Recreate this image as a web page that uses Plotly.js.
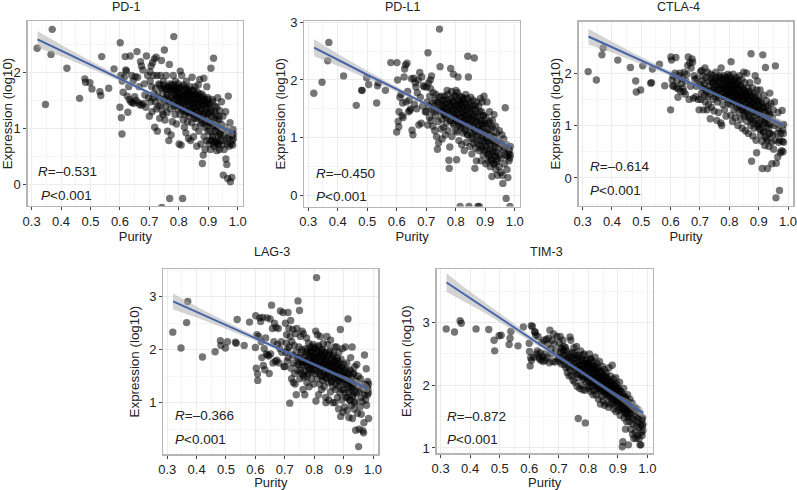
<!DOCTYPE html>
<html><head><meta charset="utf-8">
<script src="https://cdn.plot.ly/plotly-3.0.1.min.js"></script>
<style>html,body{margin:0;padding:0;background:#fff}</style></head>
<body><div id="chart" style="width:797px;height:490px"></div>
<script>
const purity=[.319,.347,.366,.370,.420,.463,.481,.483,.498,.505,.532,.535,.538,.562,.580,
.600,.601,.603,.605,.607,.608,.611,.615,.618,.620,.622,.625,.627,.630,.632,.635,.637,.640,.642,.645,.647,.650,.652,.655,.658,.660,.663,.665,.668,.670,.673,.675,.678,.680,.683,.685,.688,.690,.694,.697,
.700,.702,.703,.705,.706,.708,.709,.711,.712,.714,.715,.717,.718,.720,.721,.723,.724,.726,.727,.729,.730,.732,.733,.735,.736,.738,.739,.741,.742,.744,.745,.747,.748,.750,.751,.753,.754,.756,.757,.759,.760,.762,.763,.765,.766,.768,.769,.771,.772,.774,.775,.777,.778,.780,.781,.783,.784,.786,.787,.789,.790,.792,.793,.795,.796,.798,.799,
.800,.801,.803,.804,.805,.806,.808,.809,.810,.811,.813,.814,.815,.816,.818,.819,.820,.821,.823,.824,.825,.826,.828,.829,.830,.831,.833,.834,.835,.836,.838,.839,.840,.841,.843,.844,.845,.846,.848,.849,.850,.851,.853,.854,.855,.856,.858,.859,.860,.861,.863,.864,.865,.866,.868,.869,.870,.871,.873,.874,.875,.876,.878,.879,.880,.881,.883,.884,.885,.886,.888,.889,.890,.891,.893,.894,.895,.896,.898,.899,
.900,.902,.903,.905,.906,.908,.909,.911,.912,.914,.915,.917,.918,.920,.921,.923,.924,.926,.927,.929,.930,.932,.933,.935,.936,.938,.939,.941,.942,.944,.945,.947,.948,.950,.951,.953,.954,.956,.957,.959,.960,.962,.963,.965,.966,.968,.969,.971,.972,.974,.975,.977,.978,.980,.981,.982,.983,.984,.985,.985,
.742,.748,.752,.757,.761,.764,.767,.770,.773,.776,.778,.781,.783,.786,.788,.790,.792,.794,.797,.799,.801,.803,.805,.807,.809,.811,.813,.815,.817,.819,.821,.823,.825,.827,.829,.831,.833,.835,.837,.839,.841,.843,.845,.847,.849,.851,.853,.855,.857,.859,.861,.863,.865,.867,.869,.871,.873,.875,.877,.879,.881,.883,.885,.887,.889,.891,.893,.895,.897,.899,.901,.903,.905,.907,.909,.911,.913,.915,.917,.919,.921,.923,.925,.927,.929,.931,.933,.935,.937,.939];

const pd1=[2.44,1.43,2.33,2.78,2.08,1.54,1.89,1.83,1.82,1.71,1.66,1.59,2.29,1.72,2.07,
1.38,2.54,1.95,1.19,.90,1.85,1.65,1.92,2.29,2.05,2.03,1.58,1.29,1.75,1.52,2.30,1.48,1.95,1.46,1.85,1.45,1.57,1.93,1.50,2.38,1.92,1.46,1.75,1.42,2.20,2.12,1.42,2.05,1.45,1.80,1.60,1.38,2.30,1.95,1.55,
1.22,2.02,1.85,1.48,2.12,1.75,1.30,2.18,1.55,1.95,1.62,2.25,1.02,1.48,1.72,2.28,1.35,1.95,.95,1.60,1.40,1.80,1.55,1.18,1.78,1.95,1.42,2.22,-.42,1.30,1.68,1.25,1.85,1.52,2.41,1.15,1.72,1.40,1.95,1.60,1.28,.95,1.75,1.48,.78,2.15,-.26,1.70,1.35,.88,1.78,1.55,1.12,1.68,1.95,2.65,1.40,1.72,1.25,1.85,1.55,1.08,1.70,1.62,1.35,1.80,1.50,
1.55,.72,1.72,1.25,2.03,1.45,.70,1.62,1.95,1.32,-.26,1.50,1.15,1.78,1.38,1.02,1.60,1.25,1.72,.92,1.48,1.85,1.30,1.55,1.12,1.68,.82,1.42,1.62,1.22,1.75,1.50,.78,1.35,1.60,1.10,1.92,1.45,1.28,1.68,.85,1.52,1.18,1.38,1.75,1.02,1.58,1.30,1.45,.68,1.65,1.20,1.40,1.78,.95,1.55,1.28,1.88,1.08,1.48,.72,1.35,1.62,1.15,.37,1.42,.52,1.25,1.90,.85,1.52,.62,1.30,1.12,1.45,.78,1.75,1.05,1.38,1.55,
1.25,.72,1.45,.95,1.10,.62,2.08,1.30,.78,1.52,.85,1.05,2.26,.68,1.18,1.40,.75,.95,1.25,.60,1.02,1.55,.72,.85,1.15,.62,1.32,.90,.78,1.08,1.48,.70,.98,1.22,.16,.88,.62,.78,1.02,1.30,.45,.82,.35,.72,.10,1.58,.95,.68,.85,1.10,.04,.72,.92,.12,.88,.78,.70,.98,.82,.90,
1.72,1.78,1.55,1.70,1.62,1.75,1.50,1.80,1.68,1.58,1.72,1.45,1.78,1.62,1.52,1.70,1.42,1.75,1.58,1.65,1.48,1.72,1.55,1.38,1.62,1.75,1.45,1.58,1.35,1.68,1.52,1.62,1.30,1.72,1.48,1.58,1.40,1.65,1.28,1.52,1.60,1.35,1.45,1.68,1.25,1.55,1.38,1.62,1.48,1.18,1.58,1.30,1.52,1.42,1.62,1.22,1.48,1.35,1.55,1.10,1.42,1.58,1.25,1.50,1.02,1.35,1.45,1.18,1.52,.95,1.28,1.42,1.10,.78,1.35,1.22,.85,1.48,1.05,.72,1.30,.95,.75,1.15,1.38,.78,1.05,.72,1.22,.90];

const pdl1=[1.77,1.96,2.33,2.65,2.07,1.56,1.82,1.82,2.04,1.92,1.60,1.90,1.95,1.82,2.30,
1.10,2.30,2.00,1.28,1.19,1.45,1.70,1.75,1.38,1.60,1.35,2.05,2.19,2.26,1.62,2.29,1.80,1.45,1.65,1.47,1.50,2.02,1.13,1.05,2.03,1.58,1.95,1.88,1.50,1.78,2.00,1.22,2.13,1.70,1.25,2.05,1.55,1.90,1.88,1.45,
1.45,1.88,1.62,1.22,2.47,1.95,1.55,1.35,1.72,2.00,1.85,1.30,2.07,1.48,1.60,1.20,1.78,1.45,1.55,1.12,1.65,1.38,1.75,1.02,1.50,.80,1.62,1.28,.91,1.70,2.88,2.23,1.45,1.15,1.58,1.32,.98,1.65,1.45,1.18,1.52,1.72,1.38,1.05,1.60,1.25,1.48,1.82,1.42,1.12,1.65,.61,.47,.84,1.55,2.20,1.30,1.80,1.02,1.48,1.62,2.10,1.22,1.72,1.40,1.55,1.12,
1.35,1.82,.62,1.55,1.10,1.78,2.05,1.28,1.62,.95,1.48,1.72,-.19,1.20,1.58,1.35,.88,1.70,1.42,1.08,1.65,1.25,1.52,.78,1.38,1.60,1.15,1.75,1.30,.92,1.48,1.68,1.05,2.41,2.05,1.35,-.19,1.58,.85,1.22,1.45,1.70,1.00,1.32,.72,1.55,1.18,1.65,.90,1.38,2.38,1.10,.47,1.50,.82,1.28,.60,1.62,1.02,1.42,-.19,1.18,1.55,.78,-.19,1.30,.95,1.68,1.12,.60,1.45,.85,1.62,1.22,.70,1.38,1.05,1.72,.92,1.25,
1.10,.55,1.35,.80,1.62,.95,.60,1.25,.72,1.05,1.45,.50,.88,1.15,.62,.33,1.30,.78,1.00,.55,1.40,.68,.90,1.20,.45,.75,1.08,.62,.35,.95,.82,.50,1.12,.70,.92,.40,.65,.88,1.05,.35,.21,.78,.98,.55,.82,1.52,.70,-.05,.88,.45,.68,.31,.82,.72,.60,.78,.65,-.19,.85,.70,
1.60,1.48,1.72,1.55,1.40,1.65,1.52,1.35,1.75,1.45,1.60,1.30,1.55,1.68,1.42,1.50,1.25,1.62,1.38,1.72,1.48,1.30,1.58,1.42,1.65,1.22,1.50,1.35,1.60,1.18,1.45,1.55,1.28,1.68,1.38,1.12,1.48,1.58,1.25,1.40,1.05,1.52,1.32,1.18,1.62,1.42,1.08,1.30,1.50,.98,1.22,1.40,1.12,1.55,1.28,.92,1.35,1.05,1.20,.88,1.45,1.15,1.30,.82,1.02,1.25,.95,1.38,.78,1.10,1.22,.85,1.00,.72,1.15,.92,.68,1.28,.80,1.05,.62,.95,1.18,.75,.55,1.02,.85,.68,.92,.58];

const ctla4=[2.03,1.87,2.35,2.48,2.25,2.11,1.85,1.64,1.68,2.14,1.81,1.82,2.08,2.17,1.76,
1.30,2.31,2.25,1.87,1.76,1.95,1.75,2.00,2.30,1.72,1.85,1.54,1.70,1.95,2.00,1.65,1.80,1.90,1.72,1.65,2.02,1.60,1.85,1.98,2.15,2.31,1.50,2.20,1.75,2.10,2.27,2.21,1.52,1.95,1.88,1.55,1.75,1.90,1.50,1.30,
1.78,2.03,1.50,1.62,2.05,1.85,1.72,1.95,1.30,1.58,1.80,2.10,1.45,1.70,1.92,1.65,1.30,2.02,1.55,1.40,1.85,1.75,1.60,1.13,1.98,1.90,1.35,1.68,1.82,1.50,1.95,1.72,1.28,1.62,1.85,1.55,2.02,1.78,1.10,1.45,1.92,1.68,1.25,1.80,1.52,1.95,1.70,1.05,2.10,1.00,1.62,1.88,1.40,1.75,1.95,1.55,1.30,1.82,1.68,1.18,1.90,1.72,1.58,1.98,1.42,1.78,1.62,
1.62,1.95,1.40,1.78,1.20,2.22,1.55,1.85,1.70,1.08,1.98,1.45,1.65,1.30,1.88,1.52,1.72,1.15,1.92,1.60,1.35,1.78,1.48,1.00,1.68,1.85,1.25,1.55,1.95,1.38,1.62,1.12,1.75,1.45,1.88,.95,1.58,1.30,1.70,2.02,1.18,1.50,1.82,1.40,.90,1.62,1.28,2.00,1.08,1.55,1.72,1.35,.85,1.48,1.65,1.15,1.82,1.38,1.00,2.37,1.58,.32,1.25,1.72,.80,1.45,1.62,1.10,.95,1.35,1.95,1.55,1.20,.72,.48,1.68,1.30,1.85,1.02,1.48,
1.55,.95,1.30,1.68,.82,1.45,1.15,.70,.18,2.35,1.35,.88,1.58,1.05,.62,2.11,1.25,1.48,.75,1.12,.18,1.38,.95,.60,1.22,1.62,.85,1.02,1.42,.68,.27,1.15,.82,1.30,.55,1.00,1.45,.72,2.14,-.38,.28,1.05,.85,.40,1.25,.68,.95,-.24,.72,.48,.85,1.00,.52,1.29,.70,.92,.50,.85,1.02,.68,
1.82,1.68,1.90,1.75,1.58,1.85,1.72,1.92,1.62,1.80,1.70,1.88,1.55,1.78,1.65,1.92,1.72,1.50,1.85,1.62,1.75,1.90,1.58,1.70,1.82,1.48,1.68,1.78,1.55,1.85,1.62,1.42,1.72,1.58,1.80,1.50,1.65,1.38,1.75,1.55,1.30,1.62,1.48,1.70,1.35,1.55,1.22,1.65,1.42,1.58,1.28,1.50,1.18,1.62,1.38,1.48,1.12,1.55,1.30,1.42,1.05,1.52,1.25,1.38,1.48,1.10,1.32,1.45,.98,1.22,1.40,1.05,1.30,.92,1.42,1.18,1.02,1.35,.88,1.25,1.10,.78,1.35,.98,1.15,.72,1.28,1.05,.85,1.20];

const lag3=[2.33,2.03,2.51,2.91,1.86,1.96,2.17,2.08,2.03,2.15,2.14,2.12,2.57,2.08,2.52,
2.04,2.64,1.65,2.28,1.54,1.42,2.25,2.60,2.53,2.15,1.85,2.61,1.70,2.02,1.62,2.22,1.92,2.60,1.90,1.88,1.55,2.58,1.92,2.84,2.40,1.75,2.15,2.50,1.78,2.42,1.80,2.10,2.40,1.75,2.02,2.73,2.15,1.95,2.70,1.68,
1.68,2.50,1.95,2.12,2.28,1.78,2.00,2.70,1.85,2.40,2.05,.99,2.25,2.55,1.65,1.45,2.15,1.90,2.38,1.38,1.75,2.08,1.55,1.35,2.30,1.95,1.15,2.40,1.72,1.60,2.92,1.85,2.05,2.74,1.45,2.25,1.78,1.55,2.00,2.35,1.72,1.25,2.30,1.48,1.88,1.15,1.60,2.02,1.78,2.22,1.38,1.95,1.70,1.55,2.12,1.30,1.82,1.65,1.95,2.05,1.45,1.75,1.88,1.62,2.10,1.35,1.80,
1.85,2.02,1.55,1.72,2.35,1.03,3.36,1.95,1.45,2.28,1.68,1.88,1.15,2.05,1.60,1.35,1.78,2.25,1.50,1.92,1.25,1.70,2.00,1.42,1.85,2.12,1.58,1.30,1.75,1.95,1.48,1.10,1.00,1.82,2.25,1.55,1.68,2.10,1.38,1.90,1.05,1.72,1.52,1.98,1.20,2.18,1.62,1.40,1.85,1.75,1.30,1.00,1.60,1.92,1.45,1.78,2.05,1.00,1.25,1.68,1.55,2.05,1.85,1.10,1.48,1.72,.88,1.95,1.38,1.60,1.18,2.38,.74,1.82,1.45,1.05,1.65,2.02,.82,1.50,
1.25,1.60,.92,1.45,2.05,1.10,1.35,1.75,.85,1.50,2.58,1.20,.72,1.62,1.05,1.40,1.85,.95,1.28,2.05,.70,1.15,1.55,1.35,.88,1.68,1.02,.48,1.42,1.18,1.72,.80,1.30,1.50,.17,.50,1.22,.92,1.45,1.10,.78,1.35,1.02,.47,1.25,.43,.62,1.90,1.15,1.35,1.05,1.64,.95,1.30,1.15,1.40,1.25,1.18,1.35,.70,
1.85,1.72,1.60,1.95,1.78,1.52,1.68,1.88,1.75,1.50,2.00,1.82,1.62,1.92,1.72,1.98,1.58,1.85,2.05,1.70,1.90,1.78,2.02,1.60,1.85,1.95,1.72,2.08,1.55,1.82,1.92,1.65,1.78,2.00,1.50,1.85,1.72,1.92,1.60,1.80,1.45,1.70,1.88,1.58,1.75,1.95,1.50,1.68,1.82,1.40,1.72,1.60,1.88,1.48,1.78,1.62,1.35,1.70,1.52,1.80,1.42,1.65,1.30,1.75,1.55,1.45,1.68,1.25,1.58,1.40,1.72,1.50,1.18,1.62,1.35,1.48,1.10,1.55,1.30,1.42,1.05,1.60,1.25,1.38,1.48,1.12,1.30,1.55,1.00,1.20];

const tim3=[2.90,2.85,3.03,2.99,2.90,2.89,2.72,2.55,2.79,2.80,2.65,2.75,2.86,2.63,2.93,
2.67,2.54,2.31,2.44,2.95,2.40,2.94,2.45,2.85,2.85,2.80,2.50,2.55,2.78,2.45,2.42,2.52,2.40,2.68,2.46,2.38,2.72,2.50,2.40,2.73,2.44,2.65,2.75,2.36,2.88,2.58,2.50,2.72,2.38,2.82,2.66,2.37,2.55,2.78,2.42,
2.45,2.68,2.38,2.78,2.52,2.60,2.34,2.58,2.48,2.72,2.40,2.55,2.62,2.33,2.48,2.60,2.28,2.42,2.55,2.20,2.38,2.50,2.30,2.15,2.45,2.77,2.25,2.72,2.40,2.15,2.52,2.30,2.08,2.42,2.60,2.22,2.05,2.35,2.48,2.18,2.62,1.98,2.30,2.45,1.47,2.12,2.38,1.95,2.25,2.55,2.00,2.32,2.15,2.42,1.93,2.25,2.10,2.50,2.35,1.92,1.40,2.20,2.05,2.40,2.15,2.30,1.98,
2.35,1.95,2.18,2.50,2.05,2.30,1.90,2.42,2.12,1.98,2.25,2.05,2.38,1.85,2.15,2.30,1.92,2.08,2.45,2.00,2.22,1.85,2.12,2.35,1.95,2.05,2.28,1.78,2.15,2.00,2.38,1.90,2.10,1.70,2.22,1.98,2.08,1.82,2.30,1.92,2.15,1.75,2.02,2.25,1.68,1.95,2.12,1.85,2.05,2.20,1.72,1.98,1.90,2.10,1.65,2.02,2.28,1.82,1.95,1.70,2.15,1.88,2.05,1.78,1.95,2.32,1.72,1.90,2.10,1.62,2.00,1.82,1.68,1.95,2.12,1.58,1.85,2.02,1.75,1.92,
1.75,1.95,1.60,1.85,2.05,1.52,1.70,1.90,1.62,1.80,1.02,1.10,1.72,1.95,1.48,1.60,1.82,1.30,1.55,1.72,1.42,1.62,1.85,1.50,1.05,1.68,1.42,1.78,1.55,1.30,1.62,1.48,1.72,1.22,1.38,1.58,1.15,1.45,1.65,1.25,1.52,1.15,1.35,1.62,1.42,1.20,1.48,1.32,1.15,1.55,1.05,1.38,1.05,1.25,1.45,1.20,1.35,1.48,1.28,1.38,
2.45,2.35,2.52,2.28,2.42,2.18,2.48,2.32,2.25,2.40,2.15,2.35,2.48,2.22,2.30,2.12,2.40,2.25,2.32,2.08,2.35,2.20,2.28,2.42,2.12,2.25,2.05,2.32,2.18,2.25,2.02,2.30,2.12,2.20,1.98,2.25,2.08,2.15,1.95,2.22,2.05,2.12,1.92,2.18,2.02,1.98,2.10,1.88,2.05,2.15,1.92,2.00,1.85,2.08,1.95,2.02,1.82,1.98,2.05,1.88,1.95,1.78,2.02,1.90,1.85,1.98,1.75,1.92,1.82,1.70,1.95,1.85,1.78,1.65,1.90,1.80,1.72,1.62,1.85,1.75,1.58,1.70,1.80,1.62,1.55,1.75,1.68,1.52,1.72,1.60];

const fitX=[.32,.4,.5,.6,.7,.8,.9,.985];
const fitHalf=[.15,.105,.07,.045,.03,.03,.04,.065];
const pd1Fit=[2.60,2.40,2.145,1.89,1.64,1.39,1.135,.92];
const pdl1Fit=[2.56,2.35,2.09,1.84,1.58,1.32,1.06,.84];
const ctla4Fit=[2.70,2.50,2.24,1.99,1.735,1.48,1.23,1.01];
const lag3Fit=[2.91,2.71,2.46,2.215,1.97,1.72,1.47,1.26];
const tim3Fit=[3.64,3.39,3.08,2.76,2.45,2.14,1.82,1.56];

const xTicks=[.3,.4,.5,.6,.7,.8,.9,1];
const xLabels=["0.3","0.4","0.5","0.6","0.7","0.8","0.9","1.0"];
const names=["PD-1","PD-L1","CTLA-4","LAG-3","TIM-3"];
const rLabels=["–0.531","–0.450","–0.614","–0.366","–0.872"];
const exprs=[pd1,pdl1,ctla4,lag3,tim3];
const fits=[pd1Fit,pdl1Fit,ctla4Fit,lag3Fit,tim3Fit];
const yTicks=[[0,1,2],[0,1,2,3],[0,1,2],[1,2,3],[1,2,3]];
const yRanges=[[-.395,2.93],[-.19,3.02],[-.53,2.987],[.025,3.522],[.915,3.856]];
// panel boxes in page px: left,right,top,bottom
const boxes=[[27.7,243,21,206],[304.3,520,21,206.5],[578.7,793.3,21.5,205.7],[163.3,378.3,269,454.3],[436.7,652.7,269,453.3]];
const titlePos=[[126,7.5],[402.7,7.5],[678,7.5],[271.7,251.7],[546,252]];
const rPos=[[36.7,171.7],[315,173],[588.7,166.7],[174,415.7],[445.7,416]];
const pPos=[[40,195],[315,196.7],[588.7,190.7],[174,439.3],[445.7,439]];
const yStand=[8,1,1,6,8];
const xStand=[1,1,1,3,3];

const W=797,H=490,px=v=>v/W,py=v=>1-v/H;
const font="'Liberation Sans',Arial,sans-serif";
const traces=[],layout={width:W,height:H,margin:{l:0,r:0,t:0,b:0},paper_bgcolor:'#fff',plot_bgcolor:'#fff',showlegend:false,font:{family:font,color:'#222',size:12},annotations:[]};
names.forEach((nm,i)=>{
  const s=i?String(i+1):'',xa='x'+s,ya='y'+s,b=boxes[i];
  traces.push({type:'scatter',mode:'markers',x:purity,y:exprs[i],xaxis:xa,yaxis:ya,name:nm,hoverinfo:'skip',
    marker:{size:7.4,color:'#000',opacity:.54,line:{width:0}}});
  const up=fits[i].map((v,k)=>v+fitHalf[k]),lo=fits[i].map((v,k)=>v-fitHalf[k]);
  traces.push({type:'scatter',mode:'lines',x:fitX.concat(fitX.slice().reverse()),y:up.concat(lo.slice().reverse()),xaxis:xa,yaxis:ya,
    fill:'toself',fillcolor:'rgba(170,170,170,0.5)',line:{width:0,shape:'spline'},hoverinfo:'skip'});
  traces.push({type:'scatter',mode:'lines',x:fitX,y:fits[i],xaxis:xa,yaxis:ya,line:{color:'#4464a9',width:2},hoverinfo:'skip'});
  const axBase={showline:true,mirror:true,linecolor:'#b5b5b5',linewidth:1.3,ticks:'outside',ticklen:3,tickwidth:1,tickcolor:'#444',
    gridcolor:'#ececec',gridwidth:1,zeroline:false,tickfont:{family:font,size:13,color:'#222'},fixedrange:true,ticklabeloverflow:'allow'};
  layout['xaxis'+s]=Object.assign({},axBase,{domain:[px(b[0]),px(b[1])],anchor:ya,range:[.2868,1.018],tickmode:'array',tickvals:xTicks,ticktext:xLabels,
    title:{text:'Purity',font:{family:font,size:13,color:'#222'},standoff:xStand[i]},
    minor:{showgrid:true,tickmode:'array',tickvals:[.35,.45,.55,.65,.75,.85,.95],gridcolor:'#f5f5f5',gridwidth:1,ticks:''}});
  const yMinor=[-.5,.5,1.5,2.5,3.5];
  layout['yaxis'+s]=Object.assign({},axBase,{domain:[py(b[3]),py(b[2])],anchor:xa,range:yRanges[i],tickmode:'array',tickvals:yTicks[i],
    title:{text:'Expression (log10)',font:{family:font,size:13.4,color:'#222'},standoff:yStand[i]},
    minor:{showgrid:true,tickmode:'array',tickvals:yMinor,gridcolor:'#f5f5f5',gridwidth:1,ticks:''}});
  const ann=(t,p,anchor,size)=>layout.annotations.push({text:t,xref:'paper',yref:'paper',x:px(p[0]),y:py(p[1]),xanchor:anchor,yanchor:'middle',showarrow:false,font:{family:font,size:size,color:'#222'},borderpad:0});
  ann(nm,titlePos[i],'center',12.5);
  ann('<i>R</i>='+rLabels[i],rPos[i],'left',13.5);
  ann('<i>P</i><0.001',pPos[i],'left',13.5);
});
Plotly.newPlot('chart',traces,layout,{staticPlot:true,displayModeBar:false});
</script></body></html>
